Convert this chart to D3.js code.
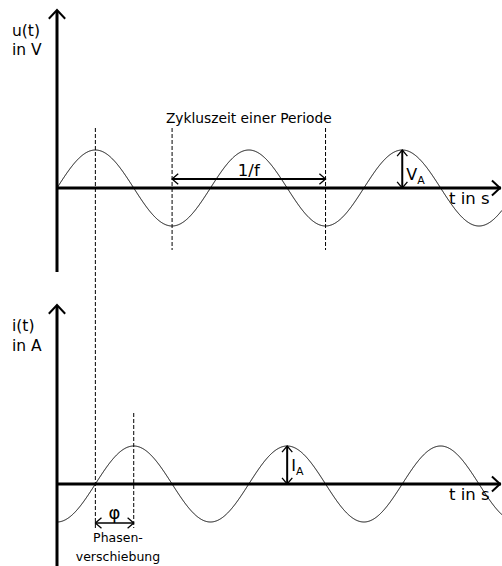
<!DOCTYPE html>
<html>
<head>
<meta charset="utf-8">
<script src="https://cdn.jsdelivr.net/npm/d3@7"></script>
<style>
  html, body { margin: 0; padding: 0; background: #fff; }
  svg { display: block; font-family: "DejaVu Sans", Verdana, sans-serif; }
</style>
</head>
<body>
<svg id="chart" width="502" height="566"></svg>
<script>
// Signals: voltage u(t) and current i(t), time measured in periods (T = 1)
const signals = ["u", "i"];
const amplitudes = [1, 1];          // V_A, I_A (normalised)
const phaseShifts = [0, 0.25];      // current lags voltage by a quarter period
const timeRange = [0, 2.9];         // visible span of the time axis, in periods

// Annotation times (in periods)
const peakMarkU = 0.25;             // dashed line through first voltage peak
const peakMarkI = 0.5;              // dashed line through first current peak
const cycleMarks = [0.75, 1.75];    // two troughs one period apart (1/f)
const ampMarkU = 2.25;              // V_A arrow position
const ampMarkI = 1.5;               // I_A arrow position

// Text
const yLabels = [["u(t)", "in V"], ["i(t)", "in A"]];
const xLabel = "t in s";
const cycleLabel = "Zykluszeit einer Periode";
const periodLabel = "1/f";
const phaseLabel = "\u03C6";
const phaseText = ["Phasen-", "verschiebung"];

const svg = d3.select("#chart");

const x = d3.scaleLinear().domain(timeRange).range([57, 502]);
const yTop = d3.scaleLinear().domain([-1, 1]).range([226, 150]);
const yBot = d3.scaleLinear().domain([-1, 1]).range([522, 446]);
const yScales = [yTop, yBot];

// open chevron arrow head at (px,py) pointing in direction angle (radians)
function chevron(g, px, py, angle, len, spread, width) {
  const a1 = angle + Math.PI - spread, a2 = angle + Math.PI + spread;
  g.append("path")
    .attr("d", `M${px + len * Math.cos(a1)},${py + len * Math.sin(a1)}L${px},${py}L${px + len * Math.cos(a2)},${py + len * Math.sin(a2)}`)
    .attr("fill", "none").attr("stroke", "#000").attr("stroke-width", width)
    .attr("stroke-linejoin", "miter");
}

function doubleArrow(g, x1, y1, x2, y2, width) {
  g.append("line").attr("x1", x1).attr("y1", y1).attr("x2", x2).attr("y2", y2)
    .attr("stroke", "#000").attr("stroke-width", width);
  const ang = Math.atan2(y2 - y1, x2 - x1);
  chevron(g, x2, y2, ang, 8, 0.7, 1.3);
  chevron(g, x1, y1, ang + Math.PI, 8, 0.7, 1.3);
}

function dashed(g, xv, y1, y2) {
  g.append("line").attr("x1", xv).attr("x2", xv).attr("y1", y1).attr("y2", y2)
    .attr("stroke", "#000").attr("stroke-width", 1).attr("stroke-dasharray", "4,2");
}

// axis frames for each panel
const panels = [
  { axisTop: 10, axisBottom: 272, labelY: [36, 55], xLabelY: 204 },
  { axisTop: 305, axisBottom: 566, labelY: [331, 351], xLabelY: 500 }
];

signals.forEach((s, k) => {
  const y = yScales[k];
  const p = panels[k];
  const g = svg.append("g");
  const y0 = y(0);

  // sine wave
  const ts = d3.range(timeRange[0], timeRange[1] + 0.0005, 0.002);
  const line = d3.line()
    .x(t => x(t))
    .y(t => y(amplitudes[k] * Math.sin(2 * Math.PI * (t - phaseShifts[k]))));
  g.append("path").datum(ts).attr("d", line)
    .attr("fill", "none").attr("stroke", "#000").attr("stroke-width", 1);

  // time axis
  g.append("line").attr("x1", x(timeRange[0])).attr("x2", 501).attr("y1", y0).attr("y2", y0)
    .attr("stroke", "#000").attr("stroke-width", 3);
  chevron(g, 500, y0, 0, 11, 0.75, 2);

  // value axis
  g.append("line").attr("x1", x(0)).attr("x2", x(0)).attr("y1", p.axisTop + 1).attr("y2", p.axisBottom)
    .attr("stroke", "#000").attr("stroke-width", 3);
  chevron(g, x(0), p.axisTop, -Math.PI / 2, 12, 0.75, 2);

  // axis labels
  yLabels[k].forEach((t, j) => {
    g.append("text").attr("x", 12).attr("y", p.labelY[j]).attr("font-size", 15.5).text(t);
  });
  g.append("text").attr("x", 449).attr("y", p.xLabelY).attr("font-size", 16.5).text(xLabel);
});

const ann = svg.append("g");

// dashed reference lines
dashed(ann, x(peakMarkU), 128, 528);
dashed(ann, x(peakMarkI), 413, 528);
cycleMarks.forEach(t => dashed(ann, x(t), 128, 250));

// period arrow and label
const midCycle = (x(cycleMarks[0]) + x(cycleMarks[1])) / 2;
doubleArrow(ann, x(cycleMarks[0]), 179, x(cycleMarks[1]), 179, 2);
ann.append("text").attr("x", midCycle).attr("y", 123)
  .attr("text-anchor", "middle").attr("font-size", 13.8).text(cycleLabel);
ann.append("text").attr("x", midCycle).attr("y", 176)
  .attr("text-anchor", "middle").attr("font-size", 16.5).text(periodLabel);

// amplitude arrows
doubleArrow(ann, x(ampMarkU), yTop(0), x(ampMarkU), yTop(amplitudes[0]), 2);
const va = ann.append("text").attr("x", x(ampMarkU) + 4).attr("y", 180).attr("font-size", 16);
va.append("tspan").text("V");
va.append("tspan").attr("font-size", 11).attr("dy", 4).text("A");

doubleArrow(ann, x(ampMarkI), yBot(0), x(ampMarkI), yBot(amplitudes[1]), 2);
const ia = ann.append("text").attr("x", x(ampMarkI) + 4).attr("y", 471).attr("font-size", 16);
ia.append("tspan").text("I");
ia.append("tspan").attr("font-size", 11).attr("dy", 4).text("A");

// phase shift arrow
doubleArrow(ann, x(peakMarkU), 523, x(peakMarkI), 523, 1.5);
ann.append("text").attr("x", (x(peakMarkU) + x(peakMarkI)) / 2).attr("y", 519)
  .attr("text-anchor", "middle").attr("font-size", 18).text(phaseLabel);
ann.append("text").attr("x", 118).attr("y", 542)
  .attr("text-anchor", "middle").attr("font-size", 12.5).text(phaseText[0]);
ann.append("text").attr("x", 118).attr("y", 561)
  .attr("text-anchor", "middle").attr("font-size", 12.5).text(phaseText[1]);
</script>
</body>
</html>
